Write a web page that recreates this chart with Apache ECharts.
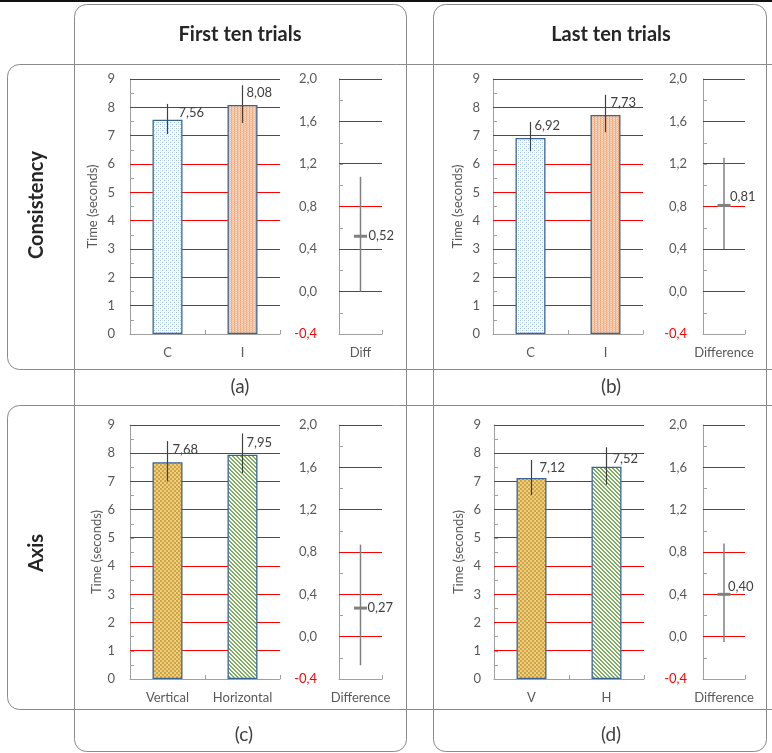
<!DOCTYPE html>
<html><head><meta charset="utf-8">
<script src="https://cdn.jsdelivr.net/npm/echarts@6/dist/echarts.min.js"></script>
<style>html,body{margin:0;padding:0;background:#fff}#chart{width:772px;height:753px}</style>
</head><body><div id="chart"></div>
<script>
// ---------------- data ----------------
const columnTitles = ['First ten trials', 'Last ten trials'];
const rowTitles = ['Consistency', 'Axis'];
const panelCaptions = ['(a)', '(b)', '(c)', '(d)'];
const valueAxisName = 'Time (seconds)';

const categoriesA = ['C', 'I'];
const meansA = [7.56, 8.08];
const lowA = [7.06, 7.45];
const highA = [8.12, 8.78];

const categoriesB = ['C', 'I'];
const meansB = [6.92, 7.73];
const lowB = [6.45, 7.12];
const highB = [7.48, 8.44];

const categoriesC = ['Vertical', 'Horizontal'];
const meansC = [7.68, 7.95];
const lowC = [7.00, 7.29];
const highC = [8.43, 8.70];

const categoriesD = ['V', 'H'];
const meansD = [7.12, 7.52];
const lowD = [6.52, 6.88];
const highD = [7.76, 8.21];

const diffCategories = ['Diff', 'Difference', 'Difference', 'Difference'];
const diffMeans = [0.52, 0.81, 0.27, 0.40];
const diffLow = [0.00, 0.40, -0.27, -0.05];
const diffHigh = [1.08, 1.26, 0.87, 0.88];

const timeMin = 0, timeMax = 9, timeStep = 1;
const diffMin = -0.4, diffMax = 2.0, diffStep = 0.4;
const timeGridTicks = [1, 2, 3, 4, 5, 6, 7, 8, 9];
const diffGridTicks = [0.0, 0.4, 0.8, 1.2, 1.6, 2.0];

// ---------------- styling ----------------
const FONT = 'Lato, "Open Sans", sans-serif';
const TXT = '#595959';
const AXIS = '#A0A0A0';
const GRID = '#FF0000';
const FS = 13;

function makePattern(w, h, draw) {
  const c = document.createElement('canvas');
  c.width = w; c.height = h;
  const ctx = c.getContext('2d');
  draw(ctx);
  return { image: c, repeat: 'repeat' };
}
const patBlue = makePattern(4, 4, ctx => {
  ctx.fillStyle = '#ffffff'; ctx.fillRect(0, 0, 4, 4);
  ctx.fillStyle = '#9DC0E6'; ctx.fillRect(0, 0, 1, 1); ctx.fillRect(2, 2, 1, 1);
  ctx.fillStyle = '#DCE8F6'; ctx.fillRect(2, 0, 1, 1); ctx.fillRect(0, 2, 1, 1);
});
const patOrange = makePattern(3, 2, ctx => {
  const cols = ['#EFA678', '#F6C8A8', '#FAE0CE'];
  cols.forEach((c, i) => { ctx.fillStyle = c; ctx.fillRect(i, 0, 1, 2); });
  ctx.fillStyle = '#F4BB95'; ctx.fillRect(2, 1, 1, 1);
  ctx.fillStyle = '#F3B790'; ctx.fillRect(0, 1, 1, 1);
});
const patGold = makePattern(4, 4, ctx => {
  ctx.fillStyle = '#EBD08A'; ctx.fillRect(0, 0, 4, 4);
  ctx.fillStyle = '#D1A33A'; ctx.fillRect(0, 0, 2, 2); ctx.fillRect(2, 2, 2, 2);
});
const patGreen = makePattern(4, 4, ctx => {
  ctx.fillStyle = '#ffffff'; ctx.fillRect(0, 0, 4, 4);
  ctx.fillStyle = '#7DB05A';
  for (let y = 0; y < 4; y++) for (let x = 0; x < 4; x++) {
    const d = ((x - y) % 4 + 4) % 4;
    if (d === 0 || d === 1) ctx.fillRect(x, y, 1, 1);
  }
});

const panels = [
  { cats: categoriesA, means: meansA, low: lowA, high: highA, pats: [patBlue, patOrange],
    main: { left: 130, top: 79, width: 150, height: 255 }, diff: { left: 339, top: 79, width: 43, height: 255 },
    nameGap: 31, mainMargin: 15, diffMargin: 22, labelOff: [[11, -7], [4, -12]], diffLabelOff: [8, 0] },
  { cats: categoriesB, means: meansB, low: lowB, high: highB, pats: [patBlue, patOrange],
    main: { left: 493, top: 79, width: 150, height: 255 }, diff: { left: 703, top: 79, width: 42, height: 255 },
    nameGap: 29, mainMargin: 13, diffMargin: 16, labelOff: [[4, -12], [5, -12]], diffLabelOff: [6, -9] },
  { cats: categoriesC, means: meansC, low: lowC, high: highC, pats: [patGold, patGreen],
    main: { left: 130, top: 425, width: 150, height: 254 }, diff: { left: 339, top: 425, width: 43, height: 254 },
    nameGap: 26, mainMargin: 15, diffMargin: 22, labelOff: [[5, -12], [4, -12]], diffLabelOff: [7, 0] },
  { cats: categoriesD, means: meansD, low: lowD, high: highD, pats: [patGold, patGreen],
    main: { left: 494, top: 425, width: 150, height: 254 }, diff: { left: 703, top: 425, width: 42, height: 254 },
    nameGap: 29, mainMargin: 13, diffMargin: 16, labelOff: [[8, -10], [6, -8]], diffLabelOff: [4, -8] }
];

const fmt = v => Number(v).toFixed(2).replace('.', ',');
const fmt1 = v => (Math.round(v * 10) / 10).toFixed(1).replace('.', ',');

const grids = [], xAxes = [], yAxes = [], series = [];

function gridLineSeries(gi, ticks) {
  return {
    type: 'custom', xAxisIndex: gi, yAxisIndex: gi, silent: true,
    data: ticks.map(t => [0, t]),
    encode: { x: 0, y: 1 },
    renderItem: (params, api) => {
      const cs = params.coordSys;
      const y = Math.round(api.coord([0, api.value(1)])[1] - 0.5) + 0.5;
      return { type: 'line', shape: { x1: cs.x, y1: y, x2: cs.x + cs.width, y2: y },
        style: { stroke: GRID, lineWidth: 1 } };
    },
    z: 1
  };
}

panels.forEach((p, k) => {
  const gm = grids.length;
  grids.push(p.main);
  const gd = grids.length;
  grids.push(p.diff);

  const baseX = {
    type: 'category',
    axisLine: { show: true, onZero: false, lineStyle: { color: AXIS } },
    axisTick: { show: true, inside: true, length: 4, lineStyle: { color: AXIS } },
    axisLabel: { color: TXT, fontSize: FS, fontFamily: FONT, margin: 12, interval: 0, hideOverlap: false },
    splitLine: { show: false }
  };
  xAxes.push(Object.assign({}, baseX, { gridIndex: gm, data: p.cats }));
  xAxes.push(Object.assign({}, baseX, { gridIndex: gd, data: [diffCategories[k]] }));

  yAxes.push({
    gridIndex: gm, type: 'value', min: timeMin, max: timeMax, interval: timeStep,
    name: valueAxisName, nameLocation: 'middle', nameGap: p.nameGap, nameRotate: 90,
    nameTextStyle: { color: TXT, fontSize: FS, fontFamily: FONT },
    axisLine: { show: true, lineStyle: { color: AXIS } },
    axisTick: { show: true, inside: true, length: 4, lineStyle: { color: AXIS } },
    minorTick: { show: true, splitNumber: 2, length: 4, lineStyle: { color: AXIS } },
    splitLine: { show: false },
    axisLabel: { color: TXT, fontSize: FS, fontFamily: FONT, margin: p.mainMargin }
  });
  yAxes.push({
    gridIndex: gd, type: 'value', min: diffMin, max: diffMax, interval: diffStep,
    axisLine: { show: true, lineStyle: { color: AXIS } },
    axisTick: { show: true, inside: true, length: 4, lineStyle: { color: AXIS } },
    minorTick: { show: true, splitNumber: 2, length: 4, lineStyle: { color: AXIS } },
    splitLine: { show: false },
    axisLabel: {
      fontSize: FS, fontFamily: FONT, margin: p.diffMargin,
      formatter: v => fmt1(v),
      color: v => (Number(v) < -0.2 ? '#FF0000' : TXT)
    }
  });

  series.push(gridLineSeries(gm, timeGridTicks));
  series.push(gridLineSeries(gd, diffGridTicks));

  series.push({
    type: 'bar', xAxisIndex: gm, yAxisIndex: gm, barWidth: '40%',
    itemStyle: { borderColor: '#3B6496', borderWidth: 1.3 },
    data: p.means.map((v, i) => ({
      value: v,
      itemStyle: { color: p.pats[i] },
      label: { offset: p.labelOff[i] }
    })),
    label: {
      show: true, position: 'top', distance: 0, align: 'left', verticalAlign: 'middle',
      color: '#404040', fontSize: FS, fontFamily: FONT,
      formatter: q => fmt(q.value)
    },
    z: 2
  });
  series.push({
    type: 'custom', xAxisIndex: gm, yAxisIndex: gm,
    data: p.cats.map((c, i) => [i, p.low[i], p.high[i]]),
    encode: { x: 0, y: [1, 2] },
    renderItem: (params, api) => {
      const a = api.coord([api.value(0), api.value(1)]);
      const b = api.coord([api.value(0), api.value(2)]);
      return { type: 'line', shape: { x1: a[0], y1: a[1], x2: b[0], y2: b[1] },
        style: { stroke: '#404040', lineWidth: 1.2 } };
    },
    z: 5
  });
  series.push({
    type: 'custom', xAxisIndex: gd, yAxisIndex: gd,
    data: [[0, diffMeans[k], diffLow[k], diffHigh[k]]],
    encode: { x: 0, y: [1, 2, 3] },
    renderItem: (params, api) => {
      const m = api.coord([api.value(0), api.value(1)]);
      const lo = api.coord([api.value(0), api.value(2)]);
      const hi = api.coord([api.value(0), api.value(3)]);
      return { type: 'group', children: [
        { type: 'line', shape: { x1: lo[0], y1: lo[1], x2: hi[0], y2: hi[1] },
          style: { stroke: '#808080', lineWidth: 1.5 } },
        { type: 'rect', shape: { x: m[0] - 6.5, y: m[1] - 1.5, width: 13, height: 3 },
          style: { fill: '#808080' } },
        { type: 'text', x: m[0] + p.diffLabelOff[0], y: m[1] + p.diffLabelOff[1],
          style: { text: fmt(api.value(1)), fill: '#404040', fontSize: FS, fontFamily: FONT,
            align: 'left', verticalAlign: 'middle' } }
      ] };
    },
    z: 5
  });
});

// ---------------- frame graphics ----------------
const LINE = '#8A8A8A';
const graphics = [
  { type: 'rect', shape: { x: 0, y: 0, width: 772, height: 2 }, style: { fill: '#111' } },
  { type: 'rect', shape: { x: 74.5, y: 4.5, width: 332, height: 747, r: 12 }, style: { fill: 'none', stroke: LINE, lineWidth: 1 } },
  { type: 'rect', shape: { x: 433.5, y: 4.5, width: 333, height: 747, r: 12 }, style: { fill: 'none', stroke: LINE, lineWidth: 1 } },
  { type: 'rect', shape: { x: 7.5, y: 64.5, width: 800, height: 305, r: 12 }, style: { fill: 'none', stroke: LINE, lineWidth: 1 } },
  { type: 'rect', shape: { x: 7.5, y: 405.5, width: 800, height: 304, r: 12 }, style: { fill: 'none', stroke: LINE, lineWidth: 1 } }
];
const colCenters = [240, 611];
columnTitles.forEach((t, i) => graphics.push({
  type: 'text', x: colCenters[i], y: 35,
  style: { text: t, align: 'center', verticalAlign: 'middle', fontSize: 20, fontWeight: 'bold', fontFamily: FONT, fill: '#262626' }
}));
const rowCenters = [205, 553];
rowTitles.forEach((t, i) => graphics.push({
  type: 'text', x: 37, y: rowCenters[i], rotation: Math.PI / 2,
  style: { text: t, align: 'center', verticalAlign: 'middle', fontSize: 20, fontWeight: 'bold', fontFamily: FONT, fill: '#262626' }
}));
const capPos = [[240, 387], [611, 387], [244, 735], [611, 735]];
panelCaptions.forEach((t, i) => graphics.push({
  type: 'text', x: capPos[i][0], y: capPos[i][1],
  style: { text: t, align: 'center', verticalAlign: 'middle', fontSize: 19, fontFamily: FONT, fill: '#404040' }
}));

const chart = echarts.init(document.getElementById('chart'), null, { renderer: 'canvas' });
chart.setOption({
  animation: false,
  backgroundColor: '#ffffff',
  grid: grids,
  xAxis: xAxes,
  yAxis: yAxes,
  series: series,
  graphic: { elements: graphics }
});
</script>
</body></html>
